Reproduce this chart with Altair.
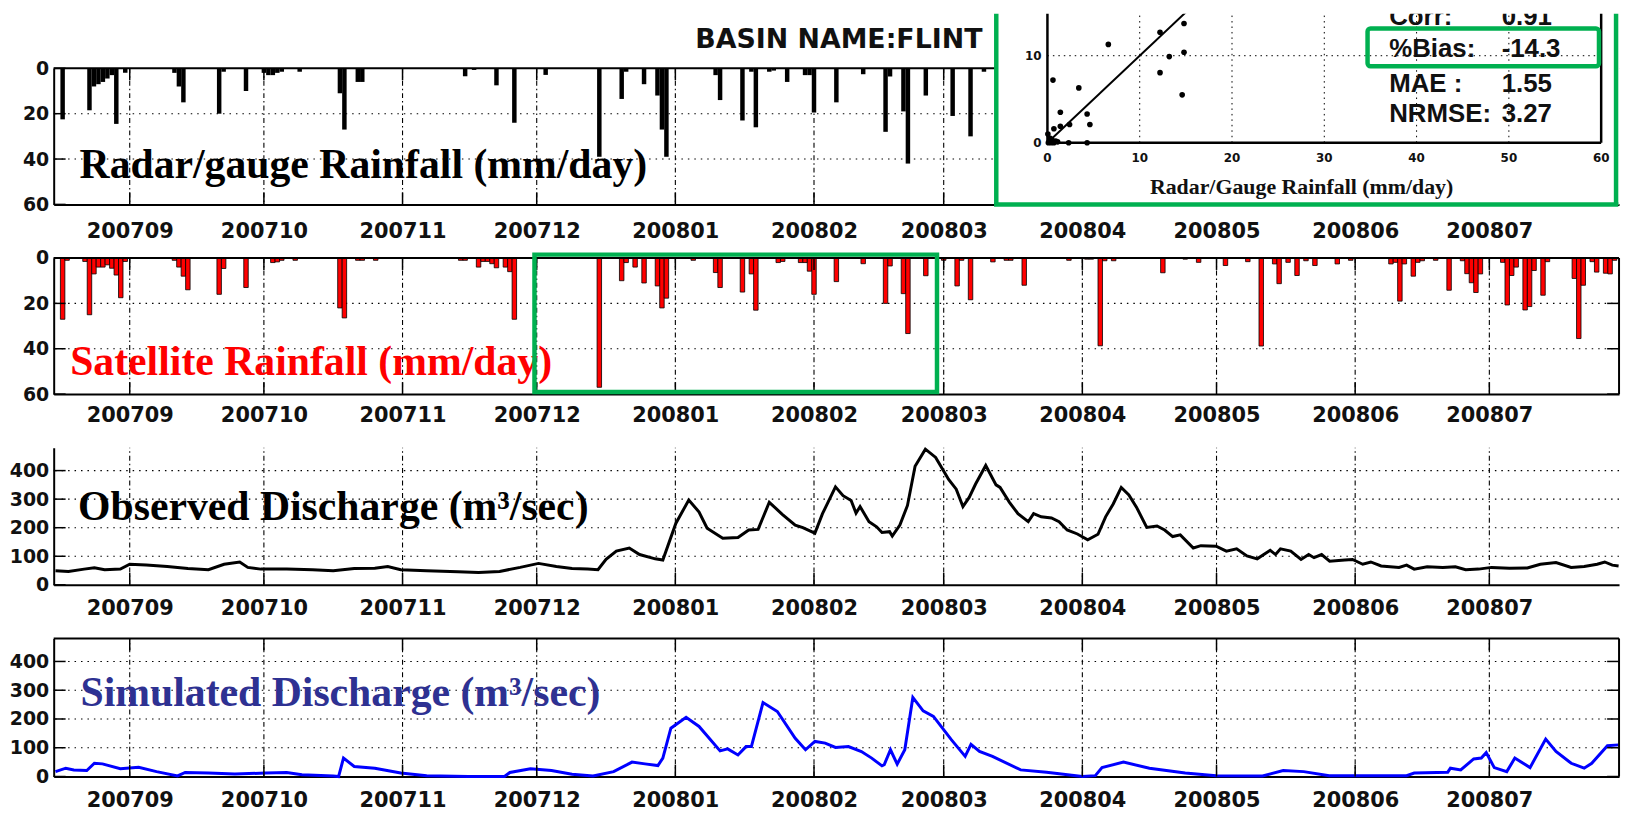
import altair as alt
import pandas as pd

# ---------------- data ----------------
START = "2007-08-15"          # day 0 of the day-offset arrays
X_START = "2007-08-15"
X_END = "2008-07-30"
MONTHS = ["2007-09-01", "2007-10-01", "2007-11-01", "2007-12-01", "2008-01-01", "2008-02-01",
          "2008-03-01", "2008-04-01", "2008-05-01", "2008-06-01", "2008-07-01"]

GAUGE_DAY = [2, 8, 9, 10, 11, 12, 13, 14, 16, 27, 28, 29, 37, 38, 43, 47, 48, 49, 50, 51, 55, 64, 65, 68, 69,
             92, 94, 99, 103, 110, 122, 127, 128, 132, 135, 136, 137, 148, 149, 154, 156, 157, 160, 161, 164,
             168, 169, 170, 175, 181, 186, 187, 190, 191, 195, 201, 205, 208]
GAUGE_MM = [22.5, 18.5, 8, 7, 6, 4.5, 3, 24.5, 2, 2, 8, 15, 20, 1.5, 10, 2, 3, 3, 2, 1.5, 1.5, 11, 27, 6, 6,
            3.5, 0.7, 7.5, 24, 2.9, 39, 13.5, 1.5, 7, 12, 27, 39, 3, 14, 23, 1.5, 26, 1.5, 1, 6,
            3, 3, 19.5, 15, 2.6, 28, 3.6, 19, 42, 12, 21, 30, 1.5]

SAT_DAY = [2, 3, 7, 8, 9, 10, 11, 12, 13, 14, 15, 16, 27, 28, 29, 30, 37, 38, 43, 49, 50, 51, 54, 64, 65, 68,
           69, 72, 91, 92, 95, 96, 97, 98, 99, 101, 102, 103, 122, 127, 128, 130, 132, 135, 136, 137, 143, 148,
           149, 154, 156, 157, 162, 163, 167, 168, 169, 170, 175, 181, 186, 187, 190, 191, 195, 199, 202, 203,
           205, 210, 213, 214, 217, 227, 231, 232, 234, 235, 237, 248, 253, 256, 262, 267, 270, 273, 274, 276,
           278, 280, 282, 287, 290, 299, 300, 301, 302, 304, 305, 306, 309, 312, 315, 316, 317, 318, 319, 324,
           325, 326, 327, 329, 330, 331, 333, 334, 340, 341, 342, 344, 345, 347, 348, 349]
SAT_MM = [27, 1, 1.5, 25, 7, 4, 4, 3, 4.5, 7.5, 17.5, 1.5, 1, 4, 8, 14, 16, 4.6, 13, 2, 1.7, 1, 1, 22, 26.4, 1,
          1, 1, 1, 1, 4, 1.5, 1.5, 2.5, 4.3, 4, 6, 27, 57, 10, 2, 4, 11, 12.3, 22, 17.7, 1, 6.4,
          13, 15, 7, 23, 2, 1.5, 2, 2, 5.8, 16, 10.4, 2.5, 20, 3.5, 15.7, 33.3, 7.8, 1, 12.3, 1,
          18.4, 1.7, 1, 1, 12, 1, 0.5, 0.5, 38.7, 1.2, 1.2, 6.5, 0.5, 1.9, 3.3, 1.6, 38.8, 2.6, 11.3, 1.9,
          7.7, 1.2, 3.3, 2.6, 1, 2.6, 1.9, 19, 2.6, 8, 1.9, 1.2, 1, 14.2, 1.2, 6.9, 10.9, 15.2, 7, 1.9,
          20.7, 7.7, 4, 22.9, 21.4, 5.5, 16.4, 1.6, 9, 35.5, 12, 1.6, 6.2, 6.7, 7, 1]

OBS_DAY = [0.4, 3.3, 6.8, 9.1, 11.4, 14.9, 17.0, 20.7, 25.4, 30.0, 34.6, 38.1, 41.6, 43.4, 46.3, 52.1, 57.9,
           62.5, 67.2, 71.8, 74.7, 77.6, 83.4, 90.4, 95.0, 99.7, 104.3, 108.4, 112.4, 115.9, 119.4, 121.7,
           123.5, 125.8, 128.7, 131.0, 134.5, 136.2, 139.1, 142.0, 144.3, 146.1, 149.6, 153.0, 155.4, 157.5,
           160.0, 162.9, 165.8, 167.5, 170.2, 171.9, 174.8, 176.5, 178.3, 179.4, 180.3, 182.3, 184.0, 185.2,
           186.9, 187.5, 189.2, 190.9, 192.6, 194.9, 197.2, 200.1, 201.8, 203.3, 204.7, 206.1, 208.4, 210.7,
           211.6, 213.7, 215.6, 217.9, 219.1, 220.8, 223.1, 224.8, 226.6, 228.9, 231.2, 233.5, 235.2, 236.9,
           238.7, 240.4, 242.1, 244.4, 246.7, 248.4, 250.2, 251.9, 254.8, 256.5, 259.9, 262.2, 264.5, 266.8,
           269.1, 272.0, 273.2, 274.3, 276.6, 278.9, 280.6, 281.8, 283.5, 285.3, 288.7, 290.4, 292.7, 294.5,
           296.8, 300.8, 302.5, 304.2, 307.1, 310.6, 313.4, 315.7, 318.6, 321.5, 325.5, 329.5, 332.4, 335.9,
           339.3, 342.2, 345.1, 346.8, 348.5, 349.9]
OBS_Q = [49, 47, 55, 60, 53, 55, 72, 69, 64, 57, 53, 72, 80, 61, 55, 55, 53,
         49, 57, 58, 64, 53, 49, 46, 43, 47, 61, 75, 64, 57, 55, 53,
         89, 118, 129, 106, 91, 87, 215, 297, 255, 198, 163, 166, 192, 194,
         289, 247, 209, 200, 181, 249, 343, 312, 295, 251, 274, 221, 203, 183,
         186, 171, 209, 278, 415, 475, 446, 369, 335, 274, 306, 352, 418, 350,
         341, 289, 249, 221, 249, 238, 234, 221, 192, 178, 158, 177, 238, 283,
         341, 315, 272, 201, 206, 192, 169, 175, 129, 137, 135, 118, 126, 101,
         91, 121, 106, 126, 118, 89, 106, 95, 106, 83, 87, 89, 72, 80,
         66, 61, 69, 55, 63, 61, 63, 53, 55, 61, 58, 59, 72, 78,
         61, 64, 72, 80, 69, 66]

SIM_DAY = [0.4, 2.7, 4.5, 7.4, 9.1, 10.9, 14.9, 19.0, 23.0, 27.7, 29.4, 34.6, 40.5, 47.4, 52.1, 55.5, 62.5,
           63.7, 64.8, 67.2, 71.8, 77.6, 83.4, 92.7, 100.8, 102.0, 106.6, 111.3, 115.9, 120.6, 125.2, 129.3,
           132.2, 135.1, 136.2, 138.0, 141.4, 144.3, 149.0, 150.7, 153.0, 154.8, 156.0, 158.6, 161.8, 165.8,
           168.1, 170.2, 172.5, 174.8, 177.7, 180.6, 182.9, 185.2, 185.7, 187.1, 188.6, 190.3, 192.1, 194.4,
           196.7, 200.7, 203.8, 205.1, 207.0, 209.9, 216.2, 222.0, 230.0, 232.9, 234.4, 239.2, 245.0, 253.0,
           259.9, 270.3, 274.9, 279.5, 285.2, 294.5, 302.5, 304.2, 311.7, 312.3, 314.6, 317.5, 319.2, 320.3,
           322.1, 324.9, 326.7, 330.1, 333.6, 335.9, 339.3, 342.2, 343.9, 347.4, 349.9]
SIM_Q = [17, 29, 23, 21, 46, 44, 27, 32, 17, 2, 14, 12, 9, 12, 14, 6, 2,
         0, 64, 35, 29, 12, 3, 0, 0, 14, 27, 21, 8, 2, 17, 50,
         44, 38, 64, 168, 206, 174, 89, 96, 75, 104, 104, 257, 226, 133,
         93, 122, 116, 101, 104, 87, 64, 37, 41, 93, 43, 93, 275, 228,
         209, 128, 70, 112, 87, 70, 23, 15, 0, 3, 31, 50, 29, 12,
         3, 2, 21, 17, 3, 3, 3, 12, 15, 29, 23, 61, 64, 83,
         31, 17, 64, 31, 130, 87, 46, 29, 46, 107, 110]

SC_GAUGE = [14.8, 12.2, 6.6, 14.8, 13.2, 12.2, 0.6, 3.4, 14.6, 1.4, 4.3, 4.6, 2.4, 1.4, 0.7, 0.05, 2.3, 4.3,
            0.2, 0.5, 0.9, 0.3, 0.7, 1.1, 0.1, 0.4]
SC_SAT = [13.7, 12.7, 11.3, 10.4, 9.9, 8.05, 7.2, 6.3, 5.5, 3.5, 3.3, 2.1, 2.1, 1.9, 1.6, 1.0, 0, 0,
          0.1, 0.3, 0.2, 0.5, 0, 0.1, 0, 0]
ONE_TO_ONE = [0, 20]

RAIN_TICKS = [0, 20, 40, 60]
Q_TICKS = [0, 100, 200, 300, 400]
INSET_XTICKS = [0, 10, 20, 30, 40, 50, 60]
INSET_YTICKS = [0, 10]
STAT_NAMES = ["Corr:", "%Bias:", "MAE :", "NRMSE:"]
STAT_VALUES = ["0.91", "-14.3", "1.55", "3.27"]
HIGHLIGHT_X = ["2007-11-30T12:00:00", "2008-02-28T12:00:00"]
HIGHLIGHT_Y = [-1.5, 59.1]

# ---------------- layout / style ----------------
W = 1576
H1, H2, H3, H4 = 192, 137, 138, 139
SPACING = 54
R1_TOP = 55
TICK = 12
Y_EXTENT = 46
FONT_AX = "DejaVu Sans"
FONT_T = "Liberation Serif"
FONT_S = "Liberation Sans"
GREEN = "#00B050"
INK = "#111111"
GRID_V = [5, 3, 1.5, 3]
GRID_H = [1.5, 5]

start = pd.Timestamp(START)


def when(days):
    return start + pd.to_timedelta(pd.Series(days, dtype=float), unit="D")


def dt(s):
    t = pd.Timestamp(s)
    return alt.DateTime(year=t.year, month=t.month, date=t.day, hours=t.hour)


XSC = alt.Scale(domain=[dt(X_START), dt(X_END)], nice=False, padding=0)
ONE = pd.DataFrame({"k": [0]})
months_df = pd.DataFrame({"m": pd.to_datetime(MONTHS)})


def xaxis(pad):
    return alt.Axis(values=[dt(m) for m in MONTHS], format="%Y%m", title=None,
                    labelFont=FONT_AX, labelFontWeight="bold", labelFontSize=21, labelColor=INK,
                    labelPadding=pad, tickSize=0, domainColor="black", domainWidth=2, grid=False,
                    labelOverlap=False, labelFlush=False)


def yaxis(vals):
    return alt.Axis(values=vals, title=None, labelFont=FONT_AX, labelFontWeight="bold",
                    labelFontSize=19, labelColor=INK, labelPadding=5, tickSize=0,
                    domainColor="black", domainWidth=2, grid=False,
                    minExtent=Y_EXTENT, maxExtent=Y_EXTENT)


def month_grid(xax, ysc, yax, lo, hi):
    d = months_df.assign(lo=lo, hi=hi)
    return alt.Chart(d).mark_rule(color="black", strokeWidth=1.1, strokeDash=GRID_V).encode(
        x=alt.X("m:T", scale=XSC, axis=xax, title=None),
        y=alt.Y("lo:Q", scale=ysc, axis=yax, title=None), y2="hi:Q")


def level_grid(vals, ysc, yax):
    d = pd.DataFrame({"v": vals})
    return alt.Chart(d).mark_rule(color="black", strokeWidth=1.1, strokeDash=GRID_H).encode(
        y=alt.Y("v:Q", scale=ysc, axis=yax, title=None))


def level_line(vals, ysc, yax, width=2):
    d = pd.DataFrame({"v": vals})
    return alt.Chart(d).mark_rule(color="black", strokeWidth=width).encode(
        y=alt.Y("v:Q", scale=ysc, axis=yax, title=None))


def month_ticks(xax, y_from, y_to):
    return alt.Chart(months_df).mark_rule(color="black", strokeWidth=1.5).encode(
        x=alt.X("m:T", scale=XSC, axis=xax, title=None), y=alt.value(y_from), y2=alt.value(y_to))


def level_ticks(vals, ysc, yax, x_from, x_to):
    d = pd.DataFrame({"v": vals})
    return alt.Chart(d).mark_rule(color="black", strokeWidth=1.5).encode(
        y=alt.Y("v:Q", scale=ysc, axis=yax, title=None), x=alt.value(x_from), x2=alt.value(x_to))


def right_edge(xax):
    d = pd.DataFrame({"e": [pd.Timestamp(X_END)]})
    return alt.Chart(d).mark_rule(color="black", strokeWidth=2).encode(
        x=alt.X("e:T", scale=XSC, axis=xax, title=None))


def label(text, x, y, size, color, font, align="left", clip=False):
    return alt.Chart(ONE).mark_text(align=align, baseline="middle", font=font, fontSize=size,
                                    fontWeight="bold", color=color, clip=clip).encode(
        x=alt.value(x), y=alt.value(y), text=alt.value(text))


def bars_df(days, vals):
    d = pd.DataFrame({"mm": vals})
    t = when(days)
    d["t0"] = t - pd.Timedelta(hours=12)
    d["t1"] = t + pd.Timedelta(hours=12)
    d["base"] = 0
    return d


# ---------------- panel 1: radar/gauge + inset ----------------
XA1 = xaxis(16)
YS1 = alt.Scale(domain=[0, 60], range=[R1_TOP, H1], nice=False, zero=False)
YA1 = yaxis(RAIN_TICKS)

g_bars = alt.Chart(bars_df(GAUGE_DAY, GAUGE_MM)).mark_bar(color="black").encode(
    x=alt.X("t0:T", scale=XSC, axis=XA1, title=None), x2="t1:T",
    y=alt.Y("mm:Q", scale=YS1, axis=YA1, title=None), y2="base:Q")

main1 = alt.layer(
    month_grid(XA1, YS1, YA1, 0, 60),
    level_grid(RAIN_TICKS[1:3], YS1, YA1),
    g_bars,
    level_line([0], YS1, YA1),
    month_ticks(XA1, H1 - TICK, H1),
    month_ticks(XA1, R1_TOP, R1_TOP + TICK),
    level_ticks(RAIN_TICKS, YS1, YA1, 0, TICK),
    label("Radar/gauge Rainfall (mm/day)", 26, 152.3, 42, "black", FONT_T),
    label("BASIN NAME:FLINT", 646, 27, 27, INK, FONT_AX),
)

ISX = alt.Scale(domain=[0, 60], range=[1000.5, 1558], nice=False, zero=False)
ISY = alt.Scale(domain=[0, 10], range=[129.9, 42.3], nice=False, zero=False)


def ix(f):
    return alt.X(f, scale=ISX, axis=None, title=None)


def iy(f):
    return alt.Y(f, scale=ISY, axis=None, title=None)


GX0, GX1, GY1 = 949, 1573, H1 + 0.2
white = alt.Chart(ONE).mark_rect(color="white").encode(
    x=alt.value(GX0), x2=alt.value(W), y=alt.value(0), y2=alt.value(GY1))
ig_v = alt.Chart(pd.DataFrame({"x": INSET_XTICKS[1:-1], "lo": 0, "hi": 20})).mark_rule(
    color="black", strokeWidth=1, strokeDash=[1.5, 4], clip=True).encode(x=ix("x:Q"), y=iy("lo:Q"), y2="hi:Q")
ig_h = alt.Chart(pd.DataFrame({"y": INSET_YTICKS[1:], "lo": 0, "hi": 60})).mark_rule(
    color="black", strokeWidth=1, strokeDash=[1.5, 4], clip=True).encode(y=iy("y:Q"), x=ix("lo:Q"), x2="hi:Q")
if_v = alt.Chart(pd.DataFrame({"x": [INSET_XTICKS[0], INSET_XTICKS[-1]], "lo": 0, "hi": 20})).mark_rule(
    color="black", strokeWidth=2.5, clip=True).encode(x=ix("x:Q"), y=iy("lo:Q"), y2="hi:Q")
if_h = alt.Chart(pd.DataFrame({"y": [0], "lo": 0, "hi": 60})).mark_rule(
    color="black", strokeWidth=2.5, clip=True).encode(y=iy("y:Q"), x=ix("lo:Q"), x2="hi:Q")
i_line = alt.Chart(pd.DataFrame({"a": ONE_TO_ONE, "b": ONE_TO_ONE})).mark_line(
    color="black", strokeWidth=2, clip=True).encode(x=ix("a:Q"), y=iy("b:Q"))
i_pts = alt.Chart(pd.DataFrame({"g": SC_GAUGE, "s": SC_SAT})).mark_circle(
    color="black", size=32, opacity=1, clip=True).encode(x=ix("g:Q"), y=iy("s:Q"))
i_xl = alt.Chart(pd.DataFrame({"x": INSET_XTICKS, "y": 0, "t": [str(v) for v in INSET_XTICKS]})).mark_text(
    font=FONT_AX, fontWeight="bold", fontSize=12, color=INK, dy=15, baseline="middle").encode(
    x=ix("x:Q"), y=iy("y:Q"), text="t:N")
i_yl = alt.Chart(pd.DataFrame({"x": 0, "y": INSET_YTICKS, "t": [str(v) for v in INSET_YTICKS]})).mark_text(
    font=FONT_AX, fontWeight="bold", fontSize=12, color=INK, dx=-6, align="right", baseline="middle").encode(
    x=ix("x:Q"), y=iy("y:Q"), text="t:N")
bias_box = alt.Chart(ONE).mark_rect(fill="white", fillOpacity=0, stroke=GREEN, strokeWidth=4.5,
                                    cornerRadius=3).encode(
    x=alt.value(1322.8), x2=alt.value(1555.8), y=alt.value(14.8), y2=alt.value(53))
STAT_Y = [3.2, 35.8, 70.8, 100.8]
stats = []
for nm, vv, yy in zip(STAT_NAMES, STAT_VALUES, STAT_Y):
    stats.append(label(nm, 1344.6, yy, 26, INK, FONT_S, clip=True))
    stats.append(label(vv, 1457.8, yy, 26, INK, FONT_S, clip=True))
g_left = alt.Chart(ONE).mark_rule(color=GREEN, strokeWidth=4.5).encode(
    x=alt.value(GX0), y=alt.value(0), y2=alt.value(GY1))
g_right = alt.Chart(ONE).mark_rule(color=GREEN, strokeWidth=4.5).encode(
    x=alt.value(GX1), y=alt.value(0), y2=alt.value(GY1))
g_bottom = alt.Chart(ONE).mark_rule(color=GREEN, strokeWidth=4.5, strokeCap="square").encode(
    x=alt.value(GX0), x2=alt.value(GX1), y=alt.value(GY1))

inset = alt.layer(white, ig_v, ig_h, i_line, i_pts, if_v, if_h, i_xl, i_yl,
                  label("Radar/Gauge Rainfall (mm/day)", 1256.4, 174.2, 22, INK, FONT_T, align="center"),
                  *stats, bias_box, g_left, g_right, g_bottom)

p1 = alt.layer(main1, inset).resolve_scale(x="independent", y="independent").properties(width=W, height=H1)

# ---------------- panel 2: satellite ----------------
XA2 = xaxis(11)
YS2 = alt.Scale(domain=[0, 60], reverse=True, nice=False, zero=False)
YA2 = yaxis(RAIN_TICKS)
s_bars = alt.Chart(bars_df(SAT_DAY, SAT_MM)).mark_bar(color="#FF0000", stroke="black", strokeWidth=0.8).encode(
    x=alt.X("t0:T", scale=XSC, axis=XA2, title=None), x2="t1:T",
    y=alt.Y("mm:Q", scale=YS2, axis=YA2, title=None), y2="base:Q")
hl = alt.Chart(pd.DataFrame({"x0": [pd.Timestamp(HIGHLIGHT_X[0])], "x1": [pd.Timestamp(HIGHLIGHT_X[1])],
                             "y0": [HIGHLIGHT_Y[0]], "y1": [HIGHLIGHT_Y[1]]})).mark_rect(
    fill="white", fillOpacity=0, stroke=GREEN, strokeWidth=4.5).encode(
    x=alt.X("x0:T", scale=XSC, axis=XA2, title=None), x2="x1:T",
    y=alt.Y("y0:Q", scale=YS2, axis=YA2, title=None), y2="y1:Q")
p2 = alt.layer(
    month_grid(XA2, YS2, YA2, 0, 60),
    level_grid(RAIN_TICKS[1:3], YS2, YA2),
    s_bars,
    level_line([0], YS2, YA2),
    right_edge(XA2),
    month_ticks(XA2, H2 - TICK, H2),
    month_ticks(XA2, 0, TICK),
    level_ticks(RAIN_TICKS, YS2, YA2, 0, TICK),
    level_ticks(RAIN_TICKS, YS2, YA2, W - TICK, W),
    label("Satellite Rainfall (mm/day)", 16.6, 104.9, 42, "#FF0000", FONT_T),
    hl,
).properties(width=W, height=H2)

# ---------------- panel 3: observed discharge ----------------
XA3 = xaxis(13)
YS3 = alt.Scale(domain=[0, 480], nice=False, zero=False)
YA3 = yaxis(Q_TICKS)
obs = alt.Chart(pd.DataFrame({"t": when(OBS_DAY), "q": OBS_Q})).mark_line(
    color="black", strokeWidth=3).encode(
    x=alt.X("t:T", scale=XSC, axis=XA3, title=None), y=alt.Y("q:Q", scale=YS3, axis=YA3, title=None))
p3 = alt.layer(
    month_grid(XA3, YS3, YA3, 0, 480),
    level_grid(Q_TICKS[1:], YS3, YA3),
    obs,
    month_ticks(XA3, H3 - TICK, H3),
    level_ticks(Q_TICKS, YS3, YA3, 0, TICK),
    label("Observed Discharge (m³/sec)", 24.5, 60.2, 42, "black", FONT_T),
).properties(width=W, height=H3)

# ---------------- panel 4: simulated discharge ----------------
XA4 = xaxis(13)
YS4 = alt.Scale(domain=[0, 480], nice=False, zero=False)
YA4 = yaxis(Q_TICKS)
sim = alt.Chart(pd.DataFrame({"t": when(SIM_DAY), "q": SIM_Q})).mark_line(
    color="#0000FF", strokeWidth=3).encode(
    x=alt.X("t:T", scale=XSC, axis=XA4, title=None), y=alt.Y("q:Q", scale=YS4, axis=YA4, title=None))
p4 = alt.layer(
    month_grid(XA4, YS4, YA4, 0, 480),
    level_grid(Q_TICKS[1:], YS4, YA4),
    sim,
    level_line([480], YS4, YA4),
    right_edge(XA4),
    month_ticks(XA4, H4 - TICK, H4),
    month_ticks(XA4, 0, TICK),
    level_ticks(Q_TICKS, YS4, YA4, 0, TICK),
    level_ticks(Q_TICKS, YS4, YA4, W - TICK, W),
    label("Simulated Discharge (m³/sec)", 27, 55, 42, "#2E3192", FONT_T),
).properties(width=W, height=H4)

chart = alt.vconcat(p1, p2, p3, p4, spacing=SPACING, bounds="flush").properties(
    padding={"left": 0, "top": 0, "right": 0, "bottom": 0}, background="white"
).configure_view(stroke=None)

chart.save("out.html", embed_options={"renderer": "svg", "actions": False})
